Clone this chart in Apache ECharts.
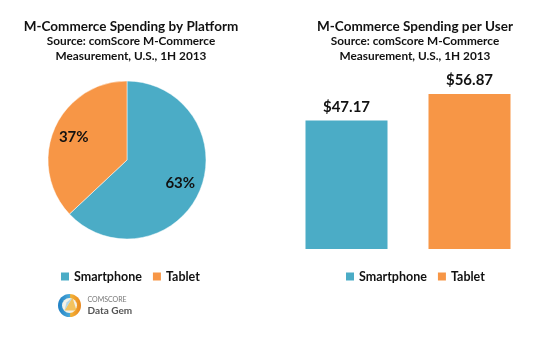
<!DOCTYPE html>
<html>
<head>
<meta charset="utf-8">
<script src="https://cdn.jsdelivr.net/npm/echarts@6/dist/echarts.min.js"></script>
<style>
  html, body { margin: 0; padding: 0; background: #fff; }
  #chart { width: 549px; height: 340px; }
</style>
</head>
<body>
<div id="chart"></div>
<script>
// Platform categories and their values
const platforms = ['Smartphone', 'Tablet'];
const spendShare = [63, 37];          // % of m-commerce spending
const spendPerUser = [47.17, 56.87];  // US$ per user
const platformColors = ['#4bacc6', '#f79646'];

const FONT = 'Lato';
const chart = echarts.init(document.getElementById('chart'));

const pieData = platforms.map((p, i) => ({
  name: p, value: spendShare[i], itemStyle: { color: platformColors[i] }
}));

// one bar series per platform so each gets its own legend entry
const barSeries = platforms.map((p, i) => ({
  type: 'bar',
  name: p,
  stack: 'spend',
  xAxisIndex: 0, yAxisIndex: 0,
  barWidth: 82,
  itemStyle: { color: platformColors[i] },
  data: platforms.map((q, j) => (j === i ? spendPerUser[i] : '-')),
  label: {
    show: true, position: 'top', distance: 6,
    fontFamily: FONT, fontWeight: 'bold', fontSize: 15, color: '#111',
    formatter: (d) => '$' + d.value.toFixed(2)
  }
}));

const titleStyle = { fontFamily: FONT, fontWeight: 'bold', fontSize: 13.5, color: '#111' };
const subStyle = { fontFamily: FONT, fontWeight: 'bold', fontSize: 11.8, color: '#111', lineHeight: 15 };
const legendText = { fontFamily: FONT, fontWeight: 'bold', fontSize: 12.5, color: '#111' };

chart.setOption({
  animation: false,
  title: [
    { text: 'M-Commerce Spending by Platform', subtext: 'Source: comScore M-Commerce\nMeasurement, U.S., 1H 2013',
      left: 126, top: 15, textAlign: 'center', itemGap: 0, textStyle: titleStyle, subtextStyle: subStyle },
    { text: 'M-Commerce Spending per User', subtext: 'Source: comScore M-Commerce\nMeasurement, U.S., 1H 2013',
      left: 410, top: 15, textAlign: 'center', itemGap: 0, textStyle: titleStyle, subtextStyle: subStyle }
  ],
  legend: [
    { data: platforms, left: 56, top: 265, itemWidth: 8, itemHeight: 8, itemGap: 11, icon: 'rect',
      textStyle: legendText },
    { data: platforms, left: 341, top: 265, itemWidth: 8, itemHeight: 8, itemGap: 11, icon: 'rect',
      textStyle: legendText }
  ],
  grid: { left: 285, width: 246, top: 85.5, bottom: 91 },
  xAxis: { type: 'category', data: platforms, show: false },
  yAxis: { type: 'value', min: 0, max: 60, show: false },
  series: [
    {
      type: 'pie', name: 'share', center: [127, 160], radius: [0, 79],
      startAngle: 90, clockwise: true, data: pieData,
      itemStyle: { borderColor: '#fff', borderWidth: 0.5 },
      label: { show: false }, labelLine: { show: false }
    },
    // transparent ring used only to place the percentage labels
    {
      type: 'pie', name: 'shareLabels', center: [127, 160], radius: [0, 110],
      startAngle: 90, clockwise: true, silent: true, legendHoverLink: false,
      data: spendShare.map((v, i) => ({ name: platforms[i] + ' ', value: v })),
      itemStyle: { color: 'rgba(0,0,0,0)' },
      label: { show: true, position: 'inside', formatter: '{d}%',
        fontFamily: FONT, fontWeight: 'bold', fontSize: 15, color: '#111' },
      labelLine: { show: false }
    },
    ...barSeries
  ],
  graphic: [
    {
      type: 'group', left: 58, top: 294,
      children: [
        { type: 'circle', shape: { cx: 11, cy: 12, r: 11.5 },
          style: { fill: new echarts.graphic.LinearGradient(0, 0, 1, 0, [
            { offset: 0, color: '#1f7fc4' }, { offset: 0.5, color: '#4aa8d8' },
            { offset: 0.55, color: '#f5b335' }, { offset: 1, color: '#e8871e' }]) } },
        { type: 'circle', shape: { cx: 11, cy: 12, r: 7.5 }, style: { fill: '#f4f1e6' } },
        { type: 'polygon', shape: { points: [[14, 4], [18, 17], [6, 17]] },
          style: { fill: '#f3b63c', opacity: 0.8 } },
        { type: 'polygon', shape: { points: [[14, 4], [6, 17], [8, 9]] },
          style: { fill: '#9fd0ea', opacity: 0.8 } },
        { type: 'text', x: 29, y: 3, style: { text: 'COMSCORE', fontFamily: FONT, fontSize: 7, fill: '#777' } },
        { type: 'text', x: 29, y: 12, style: { text: 'Data Gem', fontFamily: FONT, fontWeight: 'bold', fontSize: 10, fill: '#555' } }
      ]
    }
  ]
});
</script>
</body>
</html>
